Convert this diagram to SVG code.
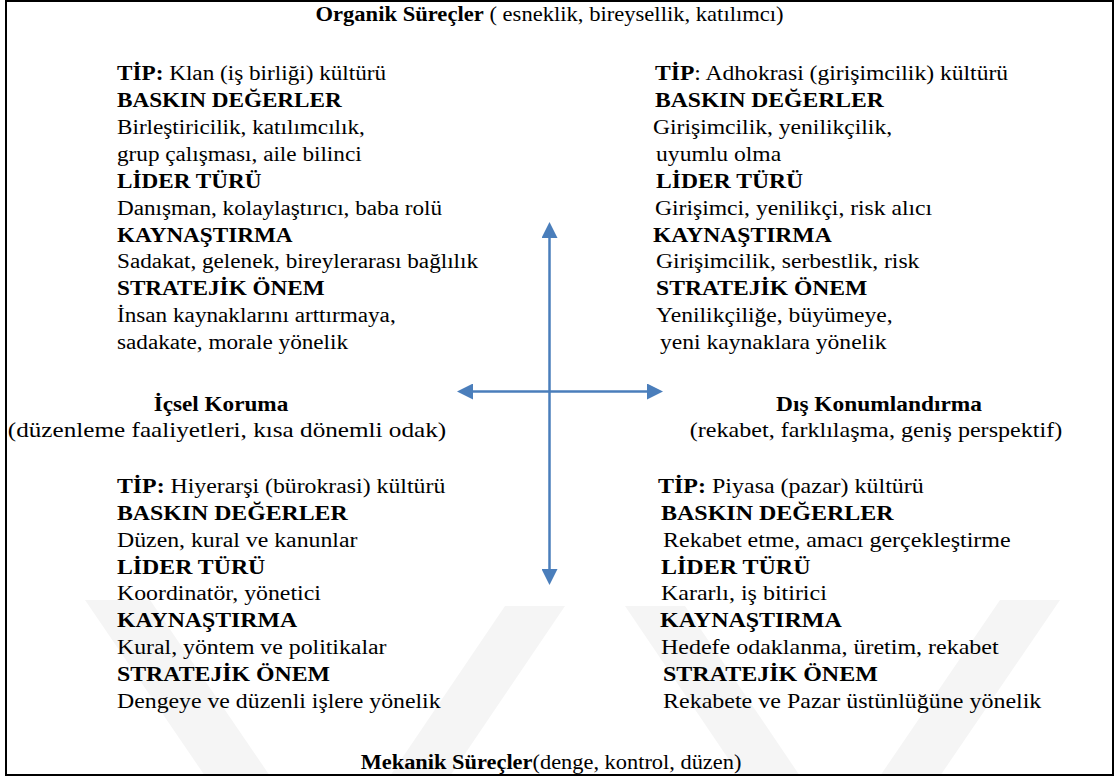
<svg xmlns="http://www.w3.org/2000/svg" width="1116" height="776" viewBox="0 0 1116 776">
<style>
text{font-family:"Liberation Serif","Times New Roman",serif;font-size:20px;fill:#000}
.b{font-weight:bold}
.c{text-anchor:middle}
.ax{stroke:#4A7EBB;stroke-width:2.5;fill:none}
.wm{fill:#f5f5f5}
</style>
<defs>
<marker id="ah" markerUnits="userSpaceOnUse" markerWidth="16" markerHeight="16" refX="0" refY="8" orient="auto-start-reverse" viewBox="0 0 16 16">
<path d="M0,0 L16,8 L0,16 z" fill="#4A7EBB"/>
</marker>
</defs>
<rect x="0" y="0" width="1116" height="776" fill="#fff"/>
<g id="watermark">
<polygon class="wm" points="85,600 150,600 270,776 205,776"/>
<polygon class="wm" points="505,606 565,606 450,776 390,776"/>
<polygon class="wm" points="625,606 685,606 800,776 740,776"/>
<polygon class="wm" points="1000,600 1060,600 940,776 880,776"/>
</g>
<rect id="frame" x="6" y="1" width="1107" height="774" fill="none" stroke="#000" stroke-width="2"/>
<g id="connectors">
<line class="ax" x1="549.5" y1="238" x2="549.5" y2="569" marker-start="url(#ah)" marker-end="url(#ah)"/>
<line class="ax" x1="473" y1="391.5" x2="647" y2="391.5" marker-start="url(#ah)" marker-end="url(#ah)"/>
</g>
<g id="top-label" transform="translate(549.5,0) scale(1.13,1)">
<text class="c" x="0" y="21"><tspan class="b">Organik Süreçler</tspan> ( esneklik, bireysellik, katılımcı)</text>
</g>
<g id="bottom-label" transform="translate(551,0) scale(1.12,1)">
<text class="c" x="0" y="769"><tspan class="b">Mekanik Süreçler</tspan>(denge, kontrol, düzen)</text>
</g>
<g id="left-label">
<text class="c b" transform="translate(221,411) scale(1.16,1)" x="0" y="0">İçsel Koruma</text>
<text class="c" transform="translate(227,437) scale(1.26,1)" x="0" y="0">(düzenleme faaliyetleri, kısa dönemli odak)</text>
</g>
<g id="right-label">
<text class="c b" transform="translate(879,411) scale(1.17,1)" x="0" y="0">Dış Konumlandırma</text>
<text class="c" transform="translate(876,437) scale(1.205,1)" x="0" y="0">(rekabet, farklılaşma, geniş perspektif)</text>
</g>
<g id="clan" transform="translate(117,0) scale(1.16,1)">
<text x="0" y="80"><tspan class="b">TİP:</tspan> Klan (iş birliği) kültürü</text>
<text class="b" x="0" y="107">BASKIN DEĞERLER</text>
<text x="0" y="134">Birleştiricilik, katılımcılık,</text>
<text x="0" y="161">grup çalışması, aile bilinci</text>
<text class="b" x="0" y="188">LİDER TÜRÜ</text>
<text x="0" y="215">Danışman, kolaylaştırıcı, baba rolü</text>
<text class="b" x="0" y="242">KAYNAŞTIRMA</text>
<text x="0" y="268">Sadakat, gelenek, bireylerarası bağlılık</text>
<text class="b" x="0" y="295">STRATEJİK ÖNEM</text>
<text x="0" y="322">İnsan kaynaklarını arttırmaya,</text>
<text x="0" y="349">sadakate, morale yönelik</text>
</g>
<g id="adhocracy" transform="translate(655,0) scale(1.18,1)">
<text x="0" y="80"><tspan class="b">TİP</tspan>: Adhokrasi (girişimcilik) kültürü</text>
<text class="b" x="0" y="107">BASKIN DEĞERLER</text>
<text x="-1.7" y="134">Girişimcilik, yenilikçilik,</text>
<text x="0.9" y="161">uyumlu olma</text>
<text class="b" x="0.9" y="188">LİDER TÜRÜ</text>
<text x="0" y="215">Girişimci, yenilikçi, risk alıcı</text>
<text class="b" x="-1.7" y="242">KAYNAŞTIRMA</text>
<text x="0.9" y="268">Girişimcilik, serbestlik, risk</text>
<text class="b" x="0.9" y="295">STRATEJİK ÖNEM</text>
<text x="0.9" y="322">Yenilikçiliğe, büyümeye,</text>
<text x="4.2" y="349">yeni kaynaklara yönelik</text>
</g>
<g id="hierarchy" transform="translate(117,0) scale(1.19,1)">
<text x="0" y="493"><tspan class="b">TİP:</tspan> Hiyerarşi (bürokrasi) kültürü</text>
<text class="b" x="0" y="520">BASKIN DEĞERLER</text>
<text x="0" y="547">Düzen, kural ve kanunlar</text>
<text class="b" x="0" y="574">LİDER TÜRÜ</text>
<text x="0" y="600">Koordinatör, yönetici</text>
<text class="b" x="0" y="627">KAYNAŞTIRMA</text>
<text x="0" y="654">Kural, yöntem ve politikalar</text>
<text class="b" x="0" y="681">STRATEJİK ÖNEM</text>
<text x="0" y="708">Dengeye ve düzenli işlere yönelik</text>
</g>
<g id="market" transform="translate(658,0) scale(1.2,1)">
<text x="0" y="493"><tspan class="b">TİP:</tspan> Piyasa (pazar) kültürü</text>
<text class="b" x="2.5" y="520">BASKIN DEĞERLER</text>
<text x="4.2" y="547">Rekabet etme, amacı gerçekleştirme</text>
<text class="b" x="2.5" y="574">LİDER TÜRÜ</text>
<text x="2.5" y="600">Kararlı, iş bitirici</text>
<text class="b" x="1.7" y="627">KAYNAŞTIRMA</text>
<text x="2.5" y="654">Hedefe odaklanma, üretim, rekabet</text>
<text class="b" x="4.2" y="681">STRATEJİK ÖNEM</text>
<text x="4.2" y="708">Rekabete ve Pazar üstünlüğüne yönelik</text>
</g>
</svg>
